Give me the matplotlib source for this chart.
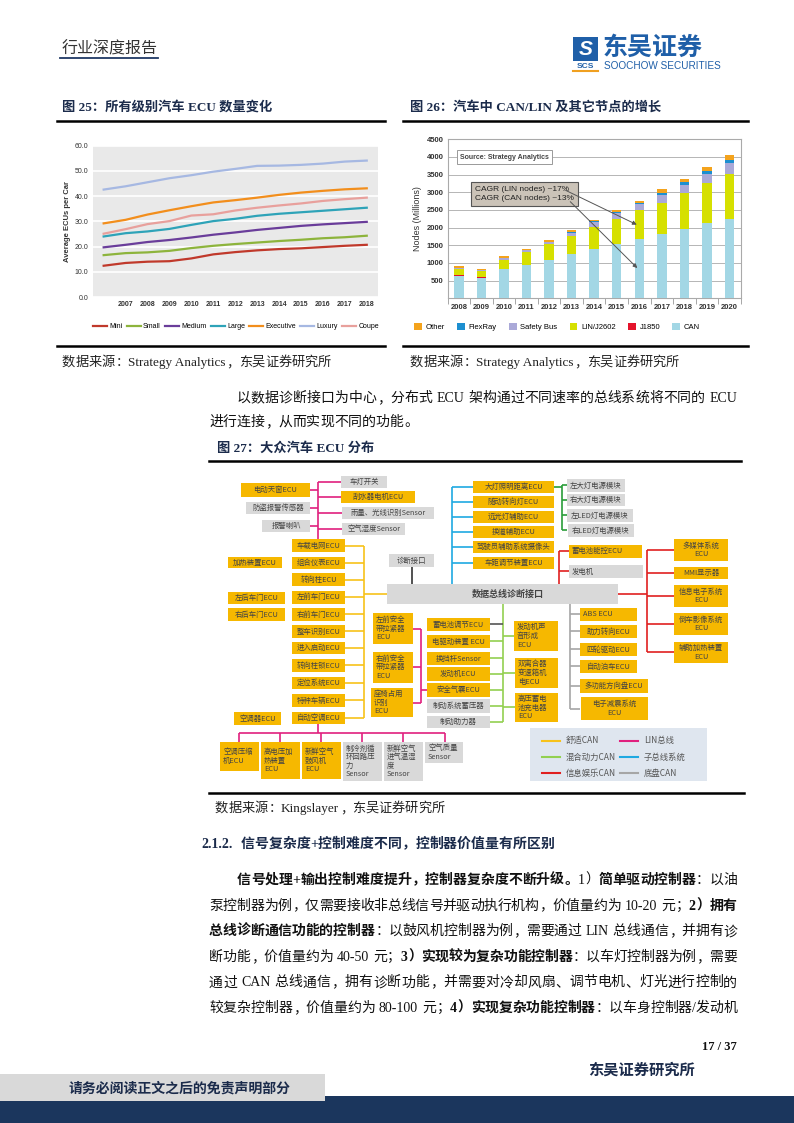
import matplotlib
matplotlib.use('Agg')
import numpy as np
import matplotlib.pyplot as plt
from matplotlib.patches import Rectangle, Patch
from matplotlib.lines import Line2D

SERIF = ['Liberation Serif', 'Noto Sans CJK SC']
SANS = ['Liberation Sans', 'Noto Sans CJK SC']
CJK = ['Noto Sans CJK SC', 'DejaVu Sans']
plt.rcParams['font.family'] = SERIF

# ---------------- figure 25: ECUs per car by class ----------------
years25 = ['', '2007', '2008', '2009', '2010', '2011', '2012', '2013', '2014', '2015', '2016', '2017', '2018']
ecu_mini = [12.4, 13.5, 14.0, 14.2, 15.3, 16.9, 17.8, 18.5, 19.0, 19.3, 19.8, 20.3, 20.7]
ecu_small = [16.6, 17.4, 17.7, 18.3, 19.4, 20.3, 21.0, 21.6, 22.2, 22.7, 23.3, 23.7, 24.3]
ecu_medium = [19.7, 20.7, 21.8, 22.6, 23.6, 24.7, 25.6, 26.6, 27.4, 28.2, 28.8, 29.3, 29.8]
ecu_large = [24.0, 25.3, 26.0, 27.0, 28.6, 30.1, 31.0, 32.2, 33.0, 33.6, 34.2, 34.8, 35.4]
ecu_exec = [29.2, 30.6, 32.7, 34.4, 36.0, 37.5, 38.4, 39.4, 40.5, 41.4, 42.1, 42.7, 43.1]
ecu_luxury = [42.6, 43.9, 45.5, 47.1, 48.3, 49.7, 50.8, 52.0, 52.1, 52.4, 52.9, 53.7, 54.1]
ecu_coupe = [25.1, 26.9, 28.9, 30.1, 32.3, 32.8, 34.3, 35.4, 36.3, 37.1, 38.1, 38.8, 39.4]

# ---------------- figure 26: nodes by bus type (millions) ----------------
years26 = ['2008', '2009', '2010', '2011', '2012', '2013', '2014', '2015', '2016', '2017', '2018', '2019', '2020']
nodes_can = [620, 565, 820, 940, 1070, 1240, 1400, 1530, 1680, 1810, 1960, 2130, 2250]
nodes_j1850 = [50, 35, 5, 0, 0, 0, 0, 0, 0, 0, 0, 0, 0]
nodes_lin = [170, 165, 270, 360, 455, 530, 620, 720, 820, 890, 1030, 1140, 1270]
nodes_safety = [20, 25, 40, 55, 60, 75, 140, 165, 160, 220, 220, 240, 310]
nodes_flexray = [5, 5, 10, 10, 15, 20, 20, 25, 30, 50, 70, 100, 90]
nodes_other = [35, 45, 40, 35, 40, 55, 50, 60, 70, 110, 100, 100, 130]

W, H = 794, 1123
fig = plt.figure(figsize=(W / 100, H / 100), dpi=100)
pg = fig.add_axes([0, 0, 1, 1])
pg.set_xlim(0, W)
pg.set_ylim(H, 0)
pg.axis('off')


def frect(x0, y0, x1, y1):
    return [x0 / W, 1 - y1 / H, (x1 - x0) / W, (y1 - y0) / H]


# ---------- chart 25 ----------
ax1 = fig.add_axes(frect(92.7, 145.7, 377.7, 297))
ax1.set_facecolor('#e9e9e9')
x1 = np.arange(len(years25))
series25 = [(ecu_mini, 'Mini', '#c0392b'), (ecu_small, 'Small', '#8db43c'),
            (ecu_medium, 'Medium', '#6a3d9a'), (ecu_large, 'Large', '#2ea3b8'),
            (ecu_exec, 'Executive', '#f28e1c'), (ecu_luxury, 'Luxury', '#a6b8e2'),
            (ecu_coupe, 'Coupe', '#e8a09c')]
h25 = []
for vals, name, col in series25:
    ln, = ax1.plot(x1, vals, color=col, lw=1.6, label=name)
    h25.append(ln)
ax1.set_xlim(-0.5, 12.5)
ax1.set_ylim(0, 60)
ax1.set_yticks(range(0, 61, 10))
ax1.set_yticklabels([f'{v:.1f}' for v in range(0, 61, 10)], fontsize=5, family=SANS, color='#333333')
ax1.set_xticks(x1)
ax1.set_xticklabels(years25, fontsize=5, family=SANS, color='#333333', fontweight='bold')
ax1.grid(axis='y', color='white', lw=1.2)
ax1.set_axisbelow(True)
for s in ax1.spines.values():
    s.set_visible(False)
ax1.tick_params(length=0, pad=3)
ax1.set_ylabel('Average ECUs per Car', fontsize=5.5, fontweight='bold', family=SANS, color='#333333', labelpad=3)
fig.legend(handles=h25, loc='center', bbox_to_anchor=(236 / W, 1 - 327 / H), ncol=7, frameon=False,
           prop={'family': SANS, 'size': 5}, handlelength=2.0, columnspacing=0.6, handletextpad=0.35)

# ---------- chart 26 ----------
ax2 = fig.add_axes(frect(447.7, 139.3, 740.7, 298.3))
x2 = np.arange(len(years26))
stack26 = [(nodes_can, 'CAN', '#a3d7e5'), (nodes_j1850, 'J1850', '#e4132b'),
           (nodes_lin, 'LIN/J2602', '#d6e000'), (nodes_safety, 'Safety Bus', '#aaa9d8'),
           (nodes_flexray, 'FlexRay', '#1c8fd0'), (nodes_other, 'Other', '#f4a31c')]
bottom = np.zeros(len(years26))
for vals, name, col in stack26:
    ax2.bar(x2, vals, 0.42, bottom=bottom, color=col, edgecolor='none', zorder=3)
    bottom += np.array(vals)
ax2.set_xlim(-0.5, 12.5)
ax2.set_ylim(0, 4500)
ax2.set_yticks(range(500, 4501, 500))
ax2.set_yticklabels([str(v) for v in range(500, 4501, 500)], fontsize=5.5, family=SANS, fontweight='bold', color='#333333')
ax2.set_xticks(x2)
ax2.set_xticklabels(years26, fontsize=5.5, family=SANS, fontweight='bold', color='#333333')
ax2.set_xticks(np.arange(-0.5, 13, 1), minor=True)
ax2.tick_params(axis='x', which='major', length=0, pad=4)
ax2.tick_params(axis='x', which='minor', length=4, color='#999999')
ax2.tick_params(axis='y', length=0, pad=3)
ax2.grid(axis='y', color='#aaaaaa', lw=0.6, zorder=0)
for s in ax2.spines.values():
    s.set_color('#aaaaaa')
    s.set_linewidth(0.8)
ax2.set_ylabel('Nodes (Millions)', fontsize=6.5, family=SANS, color='#333333', labelpad=3)
ax2.text(0.05, 3990, 'Source: Strategy Analytics', fontsize=5, family=SANS, fontweight='bold', color='#444444',
         va='center', ha='left', zorder=5,
         bbox=dict(boxstyle='square,pad=0.5', fc='white', ec='#999999', lw=0.7))
ax2.text(0.72, 2950, 'CAGR (LIN nodes) ~17%\nCAGR (CAN nodes) ~13%', fontsize=6, family=SANS, color='#222222',
         va='center', ha='left', linespacing=1.5, zorder=5,
         bbox=dict(boxstyle='square,pad=0.45', fc='#cbc3b8', ec='#555555', lw=0.8))
ax2.annotate('', xy=(8.0, 2050), xytext=(4.62, 3090), zorder=6,
             arrowprops=dict(arrowstyle='-|>', color='#555555', lw=0.7, mutation_scale=6))
ax2.annotate('', xy=(8.0, 800), xytext=(4.85, 2790), zorder=6,
             arrowprops=dict(arrowstyle='-|>', color='#555555', lw=0.7, mutation_scale=6))
h26 = [Patch(fc=col, label=name) for vals, name, col in stack26[::-1]]
fig.legend(handles=h26, loc='center', bbox_to_anchor=(557 / W, 1 - 327 / H), ncol=6, frameon=False,
           prop={'family': SANS, 'size': 5.5}, handlelength=1.0, handleheight=1.0,
           columnspacing=1.6, handletextpad=0.5)

# ---------------- page text helpers ----------------
renderer = fig.canvas.get_renderer()
LEFTP = set('，。；：、）')


def line_text(segs, x0, y, size, x1=None, color='#111111', boldcolor=None):
    em = size * 100 / 72
    toks = []
    for txt, bold in segs:
        buf = ''
        for ch in txt:
            if ch.isascii():
                buf += ch
            else:
                if buf:
                    toks.append((buf, bold))
                    buf = ''
                toks.append((ch, bold))
        if buf:
            toks.append((buf, bold))
    items = []
    for t, b in toks:
        kw = dict(fontsize=size, family=SERIF, fontweight='bold' if b else 'normal',
                  color=(boldcolor or color) if b else color, va='baseline')
        if t.isascii():
            core = t.strip()
            lead = (len(t) - len(t.lstrip())) * 0.3 * em
            trail = (len(t) - len(t.rstrip())) * 0.3 * em
            a = None
            wc = 0
            if core:
                a = pg.text(0, y, core, ha='left', **kw)
                wc = a.get_window_extent(renderer).width
            items.append((a, lead + wc + trail, lead))
        else:
            if t in LEFTP:
                a = pg.text(0, y, t, ha='left', **kw)
                items.append((a, em, 0.05 * em))
            elif t == '（':
                a = pg.text(0, y, t, ha='right', **kw)
                items.append((a, em, 0.95 * em))
            else:
                a = pg.text(0, y, t, ha='center', **kw)
                items.append((a, em, 0.5 * em))
    total = sum(it[1] for it in items)
    gap = 0
    if x1 is not None and len(items) > 1:
        gap = (x1 - x0 - total) / (len(items) - 1)
    x = x0
    for a, w, off in items:
        if a is not None:
            a.set_x(x + off)
        x += w + gap


NAVY = '#1b2b4b'

# header
pg.text(62, 53, '行业深度报告', fontsize=11.5, family=CJK, color='#333333', va='baseline')
pg.plot([60, 158], [58, 58], color='#1f3864', lw=1.3)
pg.add_patch(Rectangle((573, 37), 25, 24, fc='#1f5fa8', ec='none'))
pg.text(585.5, 49.5, 'S', fontsize=15, family=SANS, fontweight='bold', fontstyle='italic', color='white',
        ha='center', va='center')
pg.text(603, 48, '东吴证券', fontsize=18, family=CJK, fontweight='bold', color='#1f5fa8', va='center', ha='left')
pg.text(585.5, 66, 'SCS', fontsize=6, family=SANS, fontweight='bold', color='#1f5fa8', ha='center', va='center')
pg.plot([573, 598], [71, 71], color='#f0a020', lw=1.5)
pg.text(604, 66, 'SOOCHOW SECURITIES', fontsize=7.2, family=SANS, color='#1f5fa8', ha='left', va='center')

# figure titles
pg.text(62, 111, '图 25：所有级别汽车 ECU 数量变化', fontsize=9.5, family=SERIF, fontweight='bold', color=NAVY, va='baseline')
pg.text(410, 111, '图 26：汽车中 CAN/LIN 及其它节点的增长', fontsize=9.5, family=SERIF, fontweight='bold', color=NAVY, va='baseline')
pg.plot([57, 385], [121, 121], color='black', lw=1.8)
pg.plot([403, 748], [121, 121], color='black', lw=1.8)
pg.plot([57, 385], [346, 346], color='black', lw=1.8)
pg.plot([403, 748], [346, 346], color='black', lw=1.8)
line_text([('数据来源：Strategy Analytics，东吴证券研究所', False)], 62, 366, 9.5, color='#222222')
line_text([('数据来源：Strategy Analytics，东吴证券研究所', False)], 410, 366, 9.5, color='#222222')

line_text([('以数据诊断接口为中心，分布式 ECU 架构通过不同速率的总线系统将不同的 ECU', False)], 237, 402, 10, x1=737)
line_text([('进行连接，从而实现不同的功能。', False)], 209, 426, 10)

pg.text(217, 452, '图 27：大众汽车 ECU 分布', fontsize=9.5, family=SERIF, fontweight='bold', color=NAVY, va='baseline')
pg.plot([209, 741], [461, 461], color='black', lw=1.8)

# ---------------- figure 27: VW ECU layout diagram ----------------
O = '#f6b800'
G = '#d9d9d9'
boxes = [
    ('电动天窗ECU', 241, 483, 310, 497, O, 'c'),
    ('防盗报警传感器', 246, 502, 310, 514, G, 'c'),
    ('报警喇叭', 262, 520, 310, 532, G, 'c'),
    ('车灯开关', 341, 476, 387, 488, G, 'c'),
    ('刮水器电机ECU', 341, 491, 415, 503, O, 'c'),
    ('雨量、光线识别Sensor', 342, 507, 434, 519, G, 'c'),
    ('空气湿度Sensor', 342, 523, 405, 535, G, 'c'),
    ('车载电网ECU', 292, 539, 345, 552, O, 'c'),
    ('组合仪表ECU', 292, 557, 345, 569, O, 'c'),
    ('转向柱ECU', 292, 573, 345, 586, O, 'c'),
    ('左前车门ECU', 292, 591, 345, 604, O, 'c'),
    ('右前车门ECU', 292, 608, 345, 621, O, 'c'),
    ('整车识别ECU', 292, 625, 345, 638, O, 'c'),
    ('进入启动ECU', 292, 642, 345, 654, O, 'c'),
    ('转向柱锁ECU', 292, 659, 345, 672, O, 'c'),
    ('定位系统ECU', 292, 677, 345, 689, O, 'c'),
    ('特种车辆ECU', 292, 694, 345, 707, O, 'c'),
    ('自动空调ECU', 292, 712, 345, 724, O, 'c'),
    ('加热装置ECU', 228, 557, 282, 568, O, 'c'),
    ('左后车门ECU', 228, 592, 285, 604, O, 'c'),
    ('右后车门ECU', 228, 608, 285, 621, O, 'c'),
    ('空调器ECU', 234, 712, 281, 725, O, 'c'),
    ('空调压缩\n机ECU', 220, 742, 259, 771, O, 'l'),
    ('高电压加\n热装置\nECU', 261, 742, 300, 779, O, 'l'),
    ('新鲜空气\n鼓风机\nECU', 302, 742, 341, 779, O, 'l'),
    ('制冷剂循\n环回路压\n力\nSensor', 343, 742, 382, 781, G, 'l'),
    ('新鲜空气\n进气温湿\n度\nSensor', 384, 742, 423, 781, G, 'l'),
    ('空气质量\nSensor', 425, 742, 463, 763, G, 'l'),
    ('诊断接口', 389, 554, 434, 567, G, 'c'),
    ('大灯照明距离ECU', 473, 481, 554, 493, O, 'c'),
    ('随动转向灯ECU', 473, 496, 554, 508, O, 'c'),
    ('远光灯辅助ECU', 473, 511, 554, 523, O, 'c'),
    ('换道辅助ECU', 473, 526, 554, 538, O, 'c'),
    ('驾驶员辅助系统摄像头', 473, 541, 554, 553, O, 'c'),
    ('车距调节装置ECU', 473, 557, 554, 569, O, 'c'),
    ('左大灯电源模块', 567, 479, 625, 492, G, 'c'),
    ('右大灯电源模块', 567, 494, 625, 506, G, 'c'),
    ('左LED灯电源模块', 567, 509, 633, 522, G, 'c'),
    ('右LED灯电源模块', 568, 524, 634, 537, G, 'c'),
    ('蓄电池能控ECU', 569, 545, 642, 558, O, 'l'),
    ('发电机', 569, 565, 643, 578, G, 'l'),
    ('多媒体系统\nECU', 674, 539, 728, 561, O, 'c'),
    ('MMI显示器', 674, 567, 728, 579, O, 'c'),
    ('信息电子系统\nECU', 674, 585, 728, 607, O, 'c'),
    ('倒车影像系统\nECU', 674, 613, 728, 635, O, 'c'),
    ('辅助加热装置\nECU', 674, 642, 728, 663, O, 'c'),
    ('左前安全\n带拉紧器\nECU', 373, 613, 413, 644, O, 'l'),
    ('右前安全\n带拉紧器\nECU', 373, 652, 413, 683, O, 'l'),
    ('座椅占用\n识别\nECU', 371, 688, 413, 717, O, 'l'),
    ('蓄电池调节ECU', 427, 618, 490, 631, O, 'c'),
    ('电驱动装置 ECU', 427, 635, 490, 648, O, 'c'),
    ('换挡杆Sensor', 427, 652, 490, 665, O, 'c'),
    ('发动机ECU', 427, 667, 490, 681, O, 'c'),
    ('安全气囊ECU', 427, 683, 490, 697, O, 'c'),
    ('制动系统蓄压器', 427, 699, 490, 713, G, 'c'),
    ('制动助力器', 427, 716, 490, 728, G, 'c'),
    ('发动机声\n音形成\nECU', 514, 621, 558, 651, O, 'l'),
    ('双离合器\n变速箱机\n电ECU', 515, 658, 558, 688, O, 'l'),
    ('高压蓄电\n池充电器\nECU', 515, 693, 558, 722, O, 'l'),
    ('ABS ECU', 580, 608, 637, 621, O, 'l'),
    ('助力转向ECU', 580, 625, 637, 638, O, 'c'),
    ('四轮驱动ECU', 580, 643, 637, 656, O, 'c'),
    ('自动泊车ECU', 580, 660, 637, 673, O, 'c'),
    ('多功能方向盘ECU', 580, 679, 648, 693, O, 'c'),
    ('电子减震系统\nECU', 581, 697, 648, 720, O, 'c'),
]
for label, bx0, by0, bx1, by1, fc, al in boxes:
    pg.add_patch(Rectangle((bx0, by0), bx1 - bx0, by1 - by0, fc=fc, ec='none', zorder=3))
    if al == 'c':
        pg.text((bx0 + bx1) / 2, (by0 + by1) / 2, label, fontsize=5.3, family=CJK, color='#444444',
                ha='center', va='center', linespacing=1.1, zorder=4, multialignment='center')
    else:
        pg.text(bx0 + 3, (by0 + by1) / 2, label, fontsize=5.3, family=CJK, color='#444444',
                ha='left', va='center', linespacing=1.1, zorder=4)

# central bus box
pg.add_patch(Rectangle((387, 584), 231, 20, fc=G, ec='none', zorder=3))
pg.text(508, 594, '数据总线诊断接口', fontsize=6.5, family=CJK, fontweight='bold', color='#444444',
        ha='center', va='center', zorder=4)

PINK, YEL, BLUE, DGRN = '#e0207e', '#f7c21a', '#1fa9e1', '#2a9d3a'
RED, LGRN, GRY = '#e02020', '#92d050', '#a6a6a6'


def wire(col, xs, ys):
    pg.plot(xs, ys, color=col, lw=1.2, zorder=2, solid_capstyle='butt')


# LIN (upper)
wire(PINK, [318, 318], [482, 539])
for yy in [490, 508, 526]:
    wire(PINK, [310, 318], [yy, yy])
for yy in [482, 497, 513, 529]:
    wire(PINK, [318, 342], [yy, yy])
# comfort CAN
wire(YEL, [364, 364], [546, 718])
for yy in [546, 563, 580, 597, 614, 631, 648, 665, 683, 700, 718]:
    wire(YEL, [345, 364], [yy, yy])
wire(YEL, [364, 387], [594, 594])
# diagnosis
wire('#333333', [412, 412], [567, 584])
# sub bus
wire(BLUE, [452, 452], [487, 584])
for yy in [487, 502, 517, 532, 547, 563]:
    wire(BLUE, [452, 473], [yy, yy])
# headlamp modules
wire(DGRN, [554, 562], [487, 487])
wire(DGRN, [562, 562], [485, 530])
for yy in [485, 500, 515, 530]:
    wire(DGRN, [562, 567], [yy, yy])
# infotainment CAN
wire(RED, [559, 559], [551, 584])
for yy in [551, 571]:
    wire(RED, [559, 569], [yy, yy])
wire(RED, [618, 647], [594, 594])
wire(RED, [647, 647], [550, 652])
for yy in [550, 573, 596, 624, 652]:
    wire(RED, [647, 674], [yy, yy])
# hybrid CAN
wire(LGRN, [503, 503], [604, 722])
for yy in [641, 658, 674, 690, 706, 722]:
    wire(LGRN, [490, 503], [yy, yy])
wire('#555555', [490, 503], [624, 624])
for yy in [636, 673, 707]:
    wire(LGRN, [503, 515], [yy, yy])
# LIN (seat belts)
wire(PINK, [421, 421], [629, 703])
for yy in [629, 667, 703]:
    wire(PINK, [413, 421], [yy, yy])
wire(PINK, [421, 427], [690, 690])
# chassis CAN
wire(GRY, [570, 570], [604, 709])
for yy in [614, 631, 649, 666, 686, 709]:
    wire(GRY, [570, 580], [yy, yy])
# LIN (climate)
wire(PINK, [318, 318], [724, 733])
wire(PINK, [239, 445], [733, 733])
for xx in [239, 280, 321, 362, 403, 445]:
    wire(PINK, [xx, xx], [733, 742])

# diagram legend
pg.add_patch(Rectangle((530, 728), 177, 53, fc='#dfe6ef', ec='none', zorder=1))
leg27 = [('舒适CAN', YEL, 0, 0), ('LIN总线', PINK, 1, 0), ('混合动力CAN', LGRN, 0, 1),
         ('子总线系统', BLUE, 1, 1), ('信息娱乐CAN', RED, 0, 2), ('底盘CAN', GRY, 1, 2)]
for name, col, cx, ry in leg27:
    lx = 542 if cx == 0 else 620
    yy = 741 + ry * 16
    pg.plot([lx, lx + 18], [yy, yy], color=col, lw=1.5, zorder=2)
    pg.text(lx + 24, yy, name, fontsize=6, family=CJK, color='#555555', va='center', ha='left', zorder=2)

pg.plot([209, 744], [793, 793], color='black', lw=1.8)
line_text([('数据来源：Kingslayer，东吴证券研究所', False)], 215, 812, 9.5, color='#222222')

# section heading and paragraph
line_text([('2.1.2.  信号复杂度+控制难度不同，控制器价值量有所区别', True)], 201, 848, 10, color=NAVY)
body = [
    ([('信号处理+输出控制难度提升，控制器复杂度不断升级。', True), ('1）', False), ('简单驱动控制器', True), ('：以油', False)], 237, True),
    ([('泵控制器为例，仅需要接收非总线信号并驱动执行机构，价值量约为 10-20 元；', False), ('2）拥有', True)], 209, True),
    ([('总线诊断通信功能的控制器', True), ('：以鼓风机控制器为例，需要通过 LIN 总线通信，并拥有诊', False)], 209, True),
    ([('断功能，价值量约为 40-50 元；', False), ('3）实现较为复杂功能控制器', True), ('：以车灯控制器为例，需要', False)], 209, True),
    ([('通过 CAN 总线通信，拥有诊断功能，并需要对冷却风扇、调节电机、灯光进行控制的', False)], 209, True),
    ([('较复杂控制器，价值量约为 80-100 元；', False), ('4）实现复杂功能控制器', True), ('：以车身控制器/发动机', False)], 209, True),
]
for i, (segs, lx, just) in enumerate(body):
    line_text(segs, lx, 884 + i * 25.6, 10, x1=737 if just else None)

# footer
pg.text(737, 1050, '17 / 37', fontsize=9, family=SERIF, fontweight='bold', color='#111111', ha='right', va='baseline')
pg.text(695, 1075, '东吴证券研究所', fontsize=11, family=CJK, fontweight='bold', color='#1b2b4b', ha='right', va='baseline')
pg.add_patch(Rectangle((0, 1074), 325, 28, fc='#d9d9d9', ec='none'))
pg.add_patch(Rectangle((325, 1096), W - 325, H - 1096, fc='#1b365d', ec='none'))
pg.add_patch(Rectangle((0, 1101), 325, H - 1101, fc='#1b365d', ec='none'))
pg.text(180, 1088, '请务必阅读正文之后的免责声明部分', fontsize=10, family=CJK, fontweight='bold', color='#1b2b4b',
        ha='center', va='center')

fig.savefig('out.png', dpi=100)
